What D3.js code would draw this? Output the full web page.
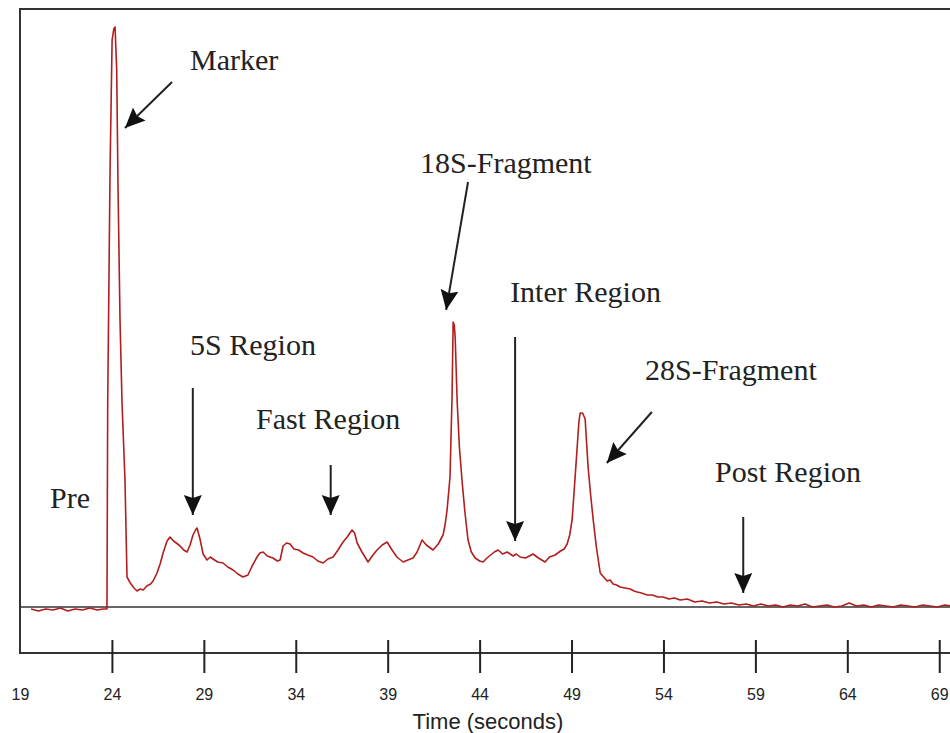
<!DOCTYPE html>
<html>
<head>
<meta charset="utf-8">
<script src="https://cdn.jsdelivr.net/npm/d3@7"></script>
<style>
  body { margin: 0; background: #fff; }
  .label { font-family: "Liberation Serif", "Times New Roman", serif; font-size: 30px; fill: #222; }
  .tick text { font-family: "Liberation Sans", Arial, sans-serif; font-size: 16px; fill: #222; }
  .axis-title { font-family: "Liberation Sans", Arial, sans-serif; font-size: 22px; fill: #222; }
</style>
</head>
<body>
<svg id="chart" width="950" height="733"></svg>
<script>
// electropherogram trace, [time (s), signal (arb. units)]
const preRegion = [[19.6,-2],[20.0,-4],[20.4,-2],[20.8,-3],[21.2,-1],[21.6,-4],[22.0,-2],[22.4,-3],[22.8,-1],[23.2,-3],[23.5,-2],[23.73,-2]];
const markerPeak = [[23.77,204],[23.90,439],[24.01,567],[24.10,578],[24.17,580],[24.26,537],[24.33,422],[24.44,287],[24.55,204],[24.71,127],[24.82,30]];
const fiveSRegion = [[25.0,24],[25.2,19],[25.37,16],[25.53,18],[25.7,17],[25.9,21],[26.1,23],[26.24,26],[26.45,34],[26.62,43],[26.8,55],[27.0,66],[27.16,70],[27.35,66],[27.5,64],[27.71,61],[27.9,57],[28.09,55],[28.25,62],[28.41,72],[28.55,77],[28.63,79],[28.79,68],[28.96,53],[29.17,47],[29.35,50],[29.5,48],[29.75,45],[30.04,44],[30.3,40],[30.59,37],[30.85,33],[31.13,30],[31.4,32]];
const fastRegion = [[31.6,40],[31.89,50],[32.05,54],[32.22,55],[32.45,51],[32.76,49],[33.0,46],[33.15,47],[33.31,61],[33.5,64],[33.69,63],[33.9,58],[34.15,57],[34.4,54],[34.65,52],[34.94,50],[35.2,46],[35.49,44],[35.75,48],[36.03,50],[36.3,57],[36.57,65],[36.8,70],[37.06,77],[37.2,74],[37.34,64],[37.6,55],[37.93,45],[38.2,52],[38.42,57],[38.7,62],[38.97,65],[39.2,58],[39.5,50],[39.84,45],[40.1,47],[40.38,49],[40.6,55],[40.87,67],[41.1,62],[41.47,57],[41.75,63]];
const peak18S = [[42.01,72],[42.12,82],[42.23,97],[42.39,130],[42.50,210],[42.56,285],[42.62,282],[42.67,270],[42.78,205],[42.9,160],[43.05,125],[43.2,95],[43.37,67]];
const interRegion = [[43.55,55],[43.76,49],[44.0,46],[44.19,45],[44.4,49],[44.6,52],[44.8,55],[45.01,57],[45.25,53],[45.5,55],[45.82,51],[46.0,53],[46.2,50],[46.5,49],[46.91,53],[47.2,49],[47.56,45],[47.8,50],[48.11,52],[48.4,56],[48.6,58],[48.76,63]];
const peak28S = [[48.9,72],[49.03,87],[49.15,118],[49.30,158],[49.40,185],[49.47,194],[49.6,194],[49.74,188],[49.90,140],[50.05,110],[50.18,87],[50.35,60],[50.56,34]];
const postRegion = [[50.75,30],[50.94,26],[51.1,27],[51.26,23],[51.45,22],[51.64,20],[51.9,19],[52.19,18],[52.4,16],[52.57,15],[52.8,14],[53.11,12],[53.4,12],[53.7,10],[53.98,10],[54.3,8],[54.6,9],[54.91,7],[55.3,8],[55.7,5],[56.1,6],[56.5,4],[56.9,5],[57.3,3],[57.7,4],[58.1,2],[58.5,3],[58.9,1],[59.3,3],[59.7,1],[60.1,2],[60.5,0],[60.9,2],[61.3,1],[61.7,3],[62.1,0],[62.5,1],[62.9,2],[63.3,0],[63.7,1],[64.1,4],[64.5,1],[64.9,2],[65.3,0],[65.7,2],[66.1,1],[66.5,0],[66.9,2],[67.3,1],[67.7,0],[68.1,2],[68.5,1],[68.9,0],[69.3,2],[69.7,1],[70.1,0],[70.5,2],[70.9,1]];

const tickValues = [19, 24, 29, 34, 39, 44, 49, 54, 59, 64, 69];

// region labels and their arrows, in data units
const regionLabels = [
  { text: 'Marker', t: 28.25, v: 537 },
  { text: '18S-Fragment', t: 40.76, v: 434 },
  { text: 'Inter Region', t: 45.66, v: 305 },
  { text: '5S Region', t: 28.25, v: 252 },
  { text: '28S-Fragment', t: 53.0, v: 227 },
  { text: 'Fast Region', t: 31.84, v: 178 },
  { text: 'Post Region', t: 56.81, v: 125 },
  { text: 'Pre', t: 20.63, v: 99 }
];
const regionArrows = [
  { from: [27.27, 525], to: [24.71, 479] },
  { from: [43.37, 425], to: [42.18, 297] },
  { from: [45.93, 270], to: [45.93, 66] },
  { from: [28.40, 219], to: [28.40, 92] },
  { from: [35.90, 142], to: [35.90, 92] },
  { from: [53.37, 195], to: [50.92, 144] },
  { from: [58.34, 90], to: [58.34, 14] }
];

const trace = [].concat(preRegion, markerPeak, fiveSRegion, fastRegion, peak18S, interRegion, peak28S, postRegion);

const width = 950, height = 733;
const plotTop = 9, axisY = 653;
const svg = d3.select('#chart');

const x = d3.scaleLinear().domain([19, 71]).range([20, 976]);
const y = d3.scaleLinear().domain([-46, 598]).range([axisY, plotTop]);

// frame
svg.append('rect')
  .attr('x', 20).attr('y', plotTop)
  .attr('width', 970).attr('height', axisY - plotTop)
  .attr('fill', 'none').attr('stroke', '#333').attr('stroke-width', 2);

// zero baseline
svg.append('line')
  .attr('x1', 20).attr('x2', width)
  .attr('y1', y(0)).attr('y2', y(0))
  .attr('stroke', '#333').attr('stroke-width', 1.6);

// axis
const xAxis = d3.axisBottom(x).tickValues(tickValues).tickSize(20).tickSizeOuter(0);
const gx = svg.append('g').attr('transform', `translate(0,${axisY})`).call(xAxis);
gx.select('.domain').remove();
gx.selectAll('.tick line')
  .attr('y1', -13)
  .attr('stroke', '#222').attr('stroke-width', 2)
  .filter(d => d === 19).remove();
gx.selectAll('.tick text').attr('y', 47).attr('dy', 0).attr('fill', '#222');

svg.append('text')
  .attr('class', 'axis-title')
  .attr('x', 488).attr('y', 729)
  .attr('text-anchor', 'middle')
  .text('Time (seconds)');

// trace
const line = d3.line().x(d => x(d[0])).y(d => y(d[1]));
svg.append('path')
  .datum(trace)
  .attr('d', line)
  .attr('fill', 'none')
  .attr('stroke', '#b01e1e')
  .attr('stroke-width', 1.6)
  .attr('stroke-linejoin', 'round');

// arrowheads
svg.append('defs').append('marker')
  .attr('id', 'head')
  .attr('markerUnits', 'userSpaceOnUse')
  .attr('viewBox', '0 -10 20 20')
  .attr('refX', 20).attr('refY', 0)
  .attr('markerWidth', 20).attr('markerHeight', 20)
  .attr('orient', 'auto')
  .append('path')
  .attr('d', 'M0,-9L20,0L0,9L3,0Z')
  .attr('fill', '#111');

svg.selectAll('.arrow')
  .data(regionArrows)
  .enter()
  .append('line')
  .attr('class', 'arrow')
  .attr('x1', d => x(d.from[0])).attr('y1', d => y(d.from[1]))
  .attr('x2', d => x(d.to[0])).attr('y2', d => y(d.to[1]))
  .attr('stroke', '#222').attr('stroke-width', 2)
  .attr('marker-end', 'url(#head)');

svg.selectAll('.label')
  .data(regionLabels)
  .enter()
  .append('text')
  .attr('class', 'label')
  .attr('x', d => x(d.t)).attr('y', d => y(d.v))
  .text(d => d.text);
</script>
</body>
</html>
